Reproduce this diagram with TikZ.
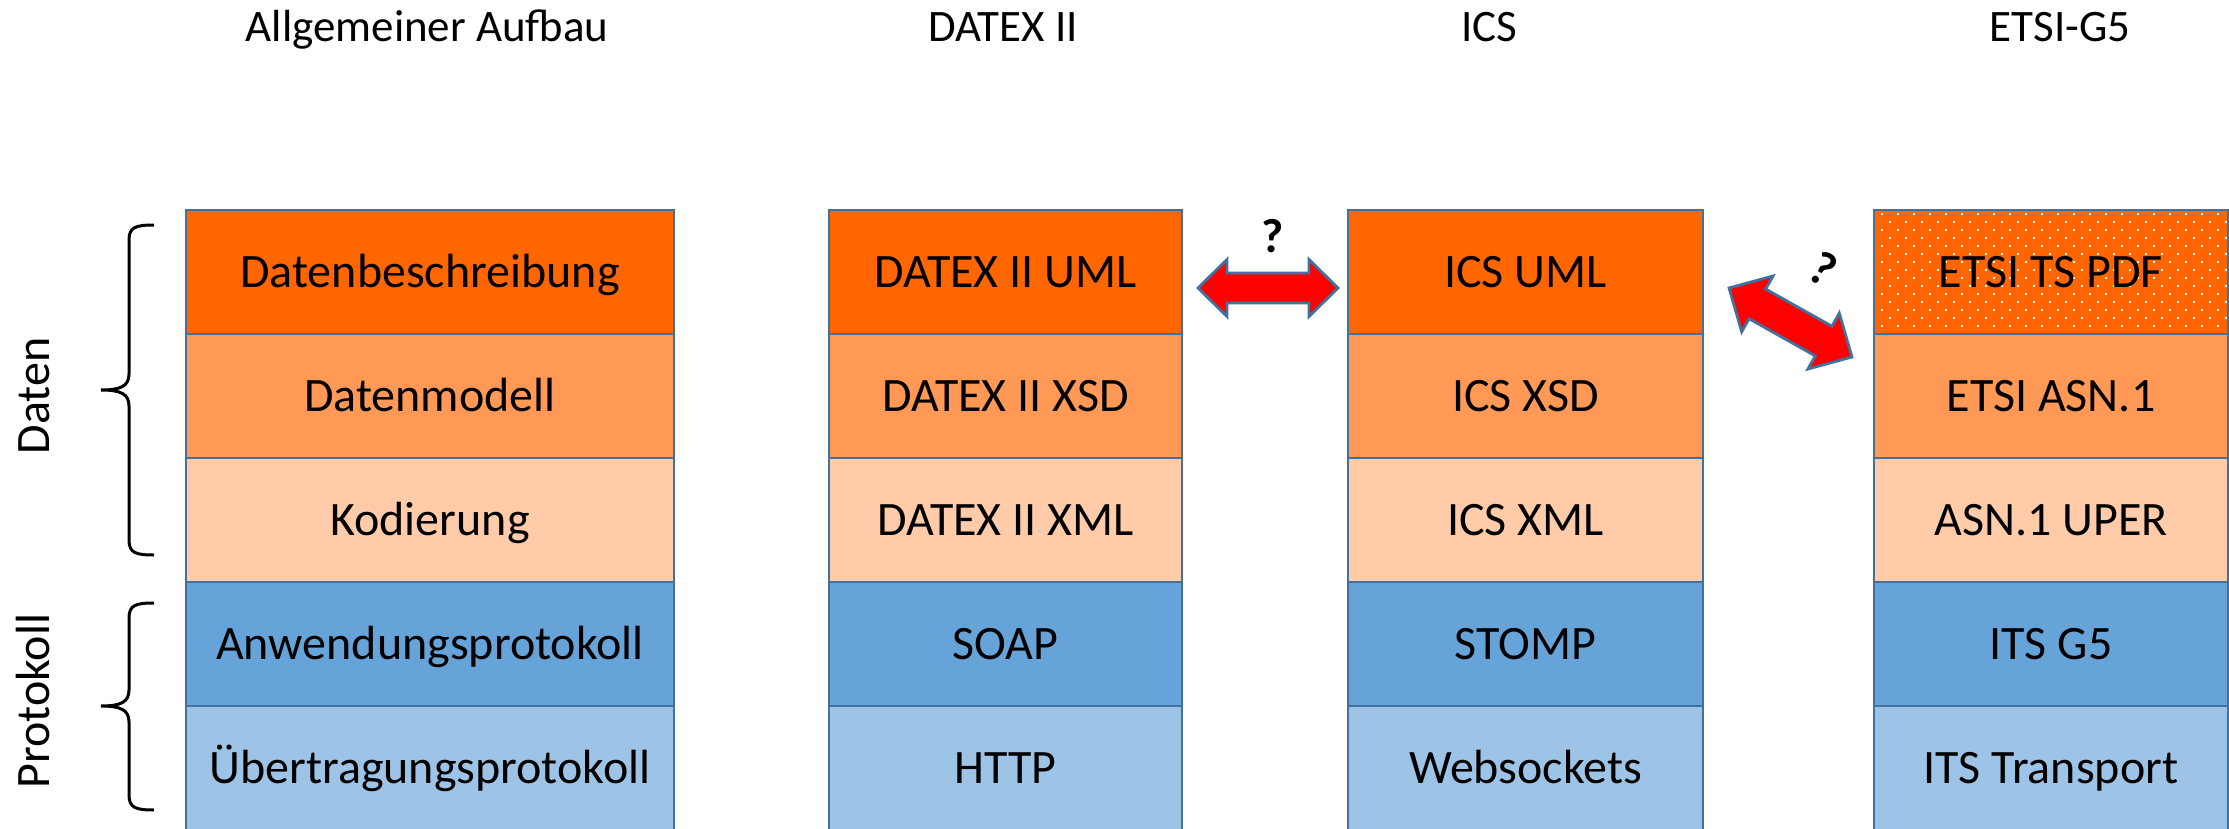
\documentclass[tikz,border=0pt]{standalone}
\usepackage{fontspec}
\setmainfont{Carlito}
\definecolor{bord}{HTML}{41719C}
\definecolor{oA}{HTML}{FF6600}
\definecolor{oB}{HTML}{FF9955}
\definecolor{oC}{HTML}{FFCBA8}
\definecolor{bA}{HTML}{66A3D9}
\definecolor{bB}{HTML}{9DC3E6}
\begin{document}
\begin{tikzpicture}[x=0.5pt,y=-0.5pt,
  lay/.style={draw=bord, line width=1pt, minimum height=62pt, inner sep=0pt,
    text height=15.5pt, text depth=0pt, font=\fontsize{24}{28}\selectfont},
  wA/.style={minimum width=244pt},
  wB/.style={minimum width=176.5pt},
  wC/.style={minimum width=177.5pt},
  wD/.style={minimum width=177pt},
  head/.style={inner sep=0pt, text height=14.5pt, text depth=0pt, font=\fontsize{22.5}{27}\selectfont},
  side/.style={inner sep=0pt, rotate=90, text height=15.5pt, text depth=0pt, font=\fontsize{24}{28}\selectfont},
  qm/.style={inner sep=0pt, text height=15.5pt, text depth=0pt, font=\fontsize{24}{28}\selectfont\bfseries},
  dbl/.style={draw=bord, fill=red, line width=1.4pt, line join=miter},
  brc/.style={draw=black, line width=1.5pt},
  dots/.style={path picture={
    \foreach \r in {0,...,14}{
      \pgfmathtruncatemacro\off{mod(\r,2)*8}
      \foreach \c in {0,...,22}{
        \fill[white] ([shift={({7+\c*16+\off},{3+\r*8})}]path picture bounding box.north west) rectangle ++(2,2);
      }}}}
]
\useasboundingbox (0,0) rectangle (2229,829);
\clip (0,0) rectangle (2229,829);

% headings
\node[head] (h1) at (427,27) {Allgemeiner Aufbau};
\node[head] (h2) at (1003,27) {DATEX II};
\node[head] (h3) at (1489,27) {ICS};
\node[head] (h4) at (2060,27) {ETSI-G5};

% column 1
\node[lay,wA,fill=oA] (g1) at (430,272) {Datenbeschreibung};
\node[lay,wA,fill=oB] (g2) at (430,396) {Datenmodell};
\node[lay,wA,fill=oC] (g3) at (430,520) {Kodierung};
\node[lay,wA,fill=bA] (g4) at (430,644) {Anwendungsprotokoll};
\node[lay,wA,fill=bB] (g5) at (430,768) {Übertragungsprotokoll};

% column 2
\node[lay,wB,fill=oA] (d1) at (1005.5,272) {DATEX II UML};
\node[lay,wB,fill=oB] (d2) at (1005.5,396) {DATEX II XSD};
\node[lay,wB,fill=oC] (d3) at (1005.5,520) {DATEX II XML};
\node[lay,wB,fill=bA] (d4) at (1005.5,644) {SOAP};
\node[lay,wB,fill=bB] (d5) at (1005.5,768) {HTTP};

% column 3
\node[lay,wC,fill=oA] (i1) at (1525.5,272) {ICS UML};
\node[lay,wC,fill=oB] (i2) at (1525.5,396) {ICS XSD};
\node[lay,wC,fill=oC] (i3) at (1525.5,520) {ICS XML};
\node[lay,wC,fill=bA] (i4) at (1525.5,644) {STOMP};
\node[lay,wC,fill=bB] (i5) at (1525.5,768) {Websockets};

% column 4
\node[lay,wD,fill=oA,dots] (e1) at (2051,272) {ETSI TS PDF};
\node[lay,wD,fill=oB] (e2) at (2051,396) {ETSI ASN.1};
\node[lay,wD,fill=oC] (e3) at (2051,520) {ASN.1 UPER};
\node[lay,wD,fill=bA] (e4) at (2051,644) {ITS G5};
\node[lay,wD,fill=bB] (e5) at (2051,768) {ITS Transport};

% braces
\draw[brc] (154,225) .. controls (136,225) and (129,227) .. (129,240) -- (129,374)
  .. controls (129,386) and (121,390) .. (101,390)
  .. controls (121,390) and (129,394) .. (129,406) -- (129,540)
  .. controls (129,553) and (136,555) .. (154,555);
\draw[brc] (154,603) .. controls (136,603) and (129,605) .. (129,618) -- (129,690)
  .. controls (129,702) and (121,706) .. (101,706)
  .. controls (121,706) and (129,710) .. (129,722) -- (129,795)
  .. controls (129,808) and (136,810) .. (154,810);
\node[side] (lD) at (34,396) {Daten};
\node[side] (lP) at (34,701) {Protokoll};

% arrows
\coordinate (a1) at (1268,288);
\begin{scope}[shift={(a1)}]
  \path[dbl] (-70,0) -- (-41,-28.5) -- (-41,-15) -- (41,-15) -- (41,-28.5) -- (70,0)
    -- (41,28.5) -- (41,15) -- (-41,15) -- (-41,28.5) -- cycle;
\end{scope}
\node[qm] (q1) at (1273,237) {?};
\coordinate (a2) at (1790.5,322.5);
\begin{scope}[shift={(a2)}, rotate=-29.3]
  \path[dbl] (-70.5,0) -- (-38,-32) -- (-38,-17) -- (38,-17) -- (38,-32) -- (70.5,0)
    -- (38,32) -- (38,17) -- (-38,17) -- (-38,32) -- cycle;
\end{scope}
\node[qm, rotate=-30] (q2) at (1823,270) {?};
\end{tikzpicture}
\end{document}
